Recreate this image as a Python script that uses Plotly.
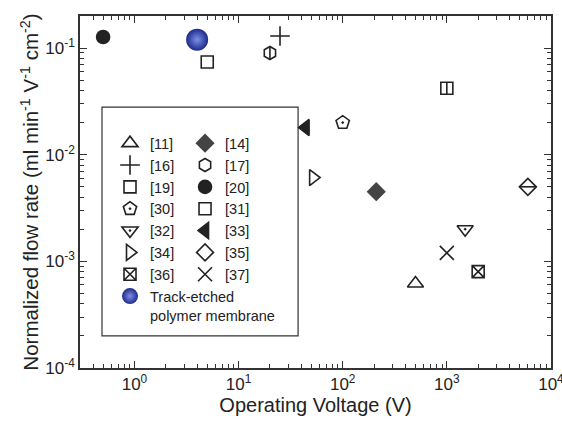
import plotly.graph_objects as go

# ---- data ----
refs = ["[11]", "[14]", "[16]", "[17]", "[19]", "[20]", "[30]",
        "[31]", "[32]", "[33]", "[34]", "[35]", "[36]", "[37]"]
voltage = [500, 210, 25, 20, 5, 0.5, 100, 1000, 1500, 44, 52, 6000, 2000, 1000]
flow = [0.00062, 0.0045, 0.13, 0.09, 0.074, 0.127, 0.020,
        0.042, 0.0020, 0.018, 0.0061, 0.0050, 0.00080, 0.0012]

track_label = "Track-etched<br>polymer membrane"
track_voltage = [4]
track_flow = [0.12]

x_tick_vals = [1, 10, 100, 1000, 10000]
x_tick_text = ["10<sup>0</sup>", "10<sup>1</sup>", "10<sup>2</sup>",
               "10<sup>3</sup>", "10<sup>4</sup>"]
y_tick_vals = [1e-4, 1e-3, 1e-2, 1e-1]
y_tick_text = ["10<sup>-4</sup>", "10<sup>-3</sup>", "10<sup>-2</sup>", "10<sup>-1</sup>"]

# ---- styles ----
INK = "#222222"
FONT = "Liberation Sans, Arial"
style = {
    "[11]": dict(symbol="triangle-up-open", size=14, color=INK, lg="legend"),
    "[14]": dict(symbol="diamond", size=13, color="#444444", lg="legend2"),
    "[16]": dict(symbol="cross-thin-open", size=14, color=INK, lg="legend"),
    "[17]": dict(symbol="hexagon-open", size=13, color=INK, lg="legend2"),
    "[19]": dict(symbol="square-open", size=12, color=INK, lg="legend"),
    "[20]": dict(symbol="circle", size=13, color=INK, lg="legend2"),
    "[30]": dict(symbol="pentagon-open-dot", size=14, color=INK, lg="legend"),
    "[31]": dict(symbol="square-open", size=12, color=INK, lg="legend2"),
    "[32]": dict(symbol="triangle-down-open-dot", size=14, color=INK, lg="legend"),
    "[33]": dict(symbol="triangle-left", size=14, color=INK, lg="legend2"),
    "[34]": dict(symbol="triangle-right-open", size=14, color=INK, lg="legend"),
    "[35]": dict(symbol="diamond-open", size=13, color=INK, lg="legend2"),
    "[36]": dict(symbol="square-x-open", size=12, color=INK, lg="legend"),
    "[37]": dict(symbol="x-thin-open", size=14, color=INK, lg="legend2"),
}
# inner bars for split symbols
inner = {"[17]": ("line-ns-open", 9), "[31]": ("line-ns-open", 8.5), "[35]": ("line-ew-open", 12)}

fig = go.Figure()
order1 = ["[11]", "[16]", "[19]", "[30]", "[32]", "[34]", "[36]"]
order2 = ["[14]", "[17]", "[20]", "[31]", "[33]", "[35]", "[37]"]

for name in order1 + order2:
    i = refs.index(name)
    st = style[name]
    fig.add_trace(go.Scatter(
        x=[voltage[i]], y=[flow[i]], mode="markers", name=name,
        legend=st["lg"],
        marker=dict(symbol=st["symbol"], size=st["size"], color=st["color"],
                    line=dict(width=1.6, color=st["color"])),
    ))
    if name in inner:
        sym, sz = inner[name]
        fig.add_trace(go.Scatter(
            x=[voltage[i]], y=[flow[i]], mode="markers", showlegend=False,
            marker=dict(symbol=sym, size=sz, color=INK, line=dict(width=1.6, color=INK)),
        ))

# drawn on the twin x axis (identical range) so that axis is rendered with its ticks
fig.add_trace(go.Scatter(
    x=track_voltage, y=track_flow, mode="markers", name=track_label, legend="legend",
    xaxis="x2", yaxis="y",
    marker=dict(symbol="circle", size=22, color="#1c2a8c",
                gradient=dict(type="radial", color="#7f8fe6"),
                line=dict(width=0)),
))

X_RANGE = [-0.523, 4.0005]
Y_RANGE = [-4.0005, -0.699]

axis_common = dict(
    type="log", showline=True, linecolor="#333333", linewidth=1.5, mirror="ticks",
    ticks="inside", ticklen=7, tickwidth=1.3, tickcolor="#333333",
    showgrid=False, zeroline=False, automargin=False, ticklabeloverflow="allow",
    tickfont=dict(family=FONT, size=17, color=INK),
)

minor_x = [k * 10.0 ** n for n in range(-1, 4) for k in range(2, 10)]

fig.update_layout(
    xaxis=dict(
        **axis_common, range=X_RANGE, tickmode="array",
        tickvals=x_tick_vals, ticktext=x_tick_text,
        title=dict(text="Operating Voltage (V)", font=dict(family=FONT, size=20, color=INK),
                   standoff=4),
    ),
    # short inner ticks (2..9 of each decade) on an overlaid twin axis
    xaxis2=dict(
        type="log", overlaying="x", anchor="y", side="bottom", range=X_RANGE,
        tickmode="array", tickvals=minor_x, showticklabels=False,
        ticks="inside", ticklen=4, tickwidth=1.2, tickcolor="#333333",
        mirror="ticks", showline=False, showgrid=False, zeroline=False, automargin=False,
    ),
    yaxis=dict(
        **axis_common, range=Y_RANGE, tickmode="array",
        tickvals=y_tick_vals, ticktext=y_tick_text,
        minor=dict(ticks="inside", ticklen=4, tickwidth=1.2, tickcolor="#333333",
                   dtick="D1", showgrid=False),
        title=dict(text="Normalized flow rate (ml min<sup>-1</sup> V<sup>-1</sup> cm<sup>-2</sup>)",
                   font=dict(family=FONT, size=20.5, color=INK), standoff=1),
    ),
)

legend_common = dict(
    bgcolor="rgba(0,0,0,0)", borderwidth=0, xanchor="left", yanchor="top",
    font=dict(family=FONT, size=14.5, color=INK),
    tracegroupgap=0, itemclick=False, valign="top",
)

fig.update_layout(
    width=562, height=430,
    margin=dict(l=80, r=11, t=16, b=62, autoexpand=False),
    paper_bgcolor="white", plot_bgcolor="white",
    showlegend=True,
    legend=dict(**legend_common, x=0.0637, y=0.684),
    legend2=dict(**legend_common, x=0.223, y=0.684),
    shapes=[dict(type="rect", xref="paper", yref="paper",
                 x0=0.0467, x1=0.463, y0=0.091, y1=0.741,
                 line=dict(color="#333333", width=1.2), fillcolor="rgba(0,0,0,0)",
                 layer="below")],
)

fig.write_html("out.html", config={"displayModeBar": False},
               post_script="document.body.style.margin='0px';")
